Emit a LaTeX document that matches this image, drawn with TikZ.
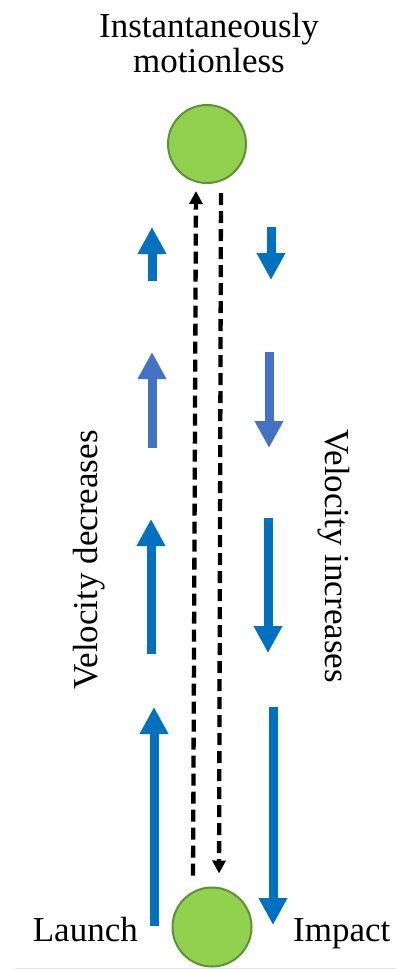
\documentclass[tikz,border=0pt]{standalone}
\usepackage{fontspec}
\setmainfont{Liberation Serif}
\usetikzlibrary{arrows.meta}
\definecolor{blueA}{HTML}{0070C0}
\definecolor{blueB}{HTML}{4472C4}
\definecolor{ballfill}{HTML}{92D050}
\definecolor{ballline}{HTML}{5F9137}
\tikzset{
  ball/.style={circle, draw=ballline, fill=ballfill, line width=2pt, inner sep=0pt, minimum size=78pt},
  label/.style={font=\fontsize{35}{35}\selectfont, inner sep=0pt},
  blockarrow/.style={line width=9pt, -{Triangle[width=27pt,length=27pt]}},
  dasharrow/.style={line width=4.3pt, dash pattern=on 12pt off 6pt, -{Triangle[width=13pt,length=13pt]}}
}
\begin{document}
\begin{tikzpicture}[x=1pt,y=-1pt]
\useasboundingbox (0,0) rectangle (396,970);
% balls
\node[ball] (top) at (207,144) {};
\node[ball, minimum size=79pt] (bot) at (212,927) {};
% labels
\node[label, align=center, anchor=base] (title) at (209,72) {Instantaneously\\motionless};
\node[label, anchor=base east] (launch) at (138,941) {Launch};
\node[label, anchor=base west] (impact) at (293,941) {Impact};
\node[label, rotate=90, anchor=base] (dec) at (97,560) {Velocity decreases};
\node[label, rotate=-90, anchor=base] (inc) at (325,556) {Velocity increases};
% dashed trajectory
\draw[dasharrow, shorten <=11pt, shorten >=7pt] ([xshift=-19pt]bot.north) -- ([xshift=-11pt]top.south);
\draw[dasharrow, shorten <=9pt, shorten >=13pt] ([xshift=14pt]top.south) -- ([xshift=7pt]bot.north);
% velocity arrows (upward)
\draw[blockarrow, blueA] (152,281) -- (152,227);
\draw[blockarrow, blueB] (152,448) -- (152,352);
\draw[blockarrow, blueA] (151,654) -- (151,519);
\draw[blockarrow, blueA] (154,926) -- (154,707);
% velocity arrows (downward)
\draw[blockarrow, blueA] (271,227) -- (271,280);
\draw[blockarrow, blueB] (269,352) -- (269,448);
\draw[blockarrow, blueA] (268,518) -- (268,653);
\draw[blockarrow, blueA] (273,707) -- (273,925);
% bottom rule
\draw[black!10, line width=1.2pt] (15,968.5) -- (396,968.5);
\end{tikzpicture}
\end{document}
